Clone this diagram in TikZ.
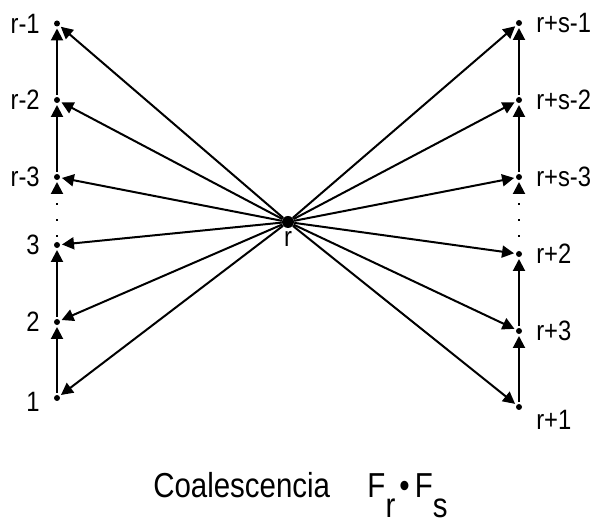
\documentclass[tikz,border=0pt]{standalone}
\usepackage{fontspec}
\setmainfont{Liberation Sans}[FakeStretch=0.85]
\usetikzlibrary{arrows.meta,positioning}

\begin{document}
\begin{tikzpicture}[x=0.75pt,y=-0.75pt,
  dot/.style={circle,fill=black,inner sep=0pt,minimum size=4.5pt,outer sep=1.5pt},
  lbl/.style={font=\fontsize{21pt}{24pt}\selectfont,inner sep=1pt},
  arr/.style={line width=1.5pt,-{Triangle[length=9pt,width=9pt]}},
  dots/.style={dash pattern=on 1.5pt off 10.5pt}]
\useasboundingbox (0,0) rectangle (597,523);
% centre
\node[circle,fill=black,inner sep=0pt,minimum size=9pt] (c) at (288,222) {};
\node[lbl,below=1pt of c] (cl) {r};
% left column
\node[dot] (l1) at (57,398) {};
\node[dot] (l2) at (57,322) {};
\node[dot] (l3) at (57,245) {};
\node[dot] (lr3) at (57,177) {};
\node[dot] (lr2) at (57,100) {};
\node[dot] (lr1) at (57,23.5) {};
\node[lbl,left=8pt of l1,yshift=-3pt] (l1l) {1};
\node[lbl,left=8pt of l2] (l2l) {2};
\node[lbl,left=8pt of l3] (l3l) {3};
\node[lbl,left=8pt of lr3] (lr3l) {r-3};
\node[lbl,left=8pt of lr2] (lr2l) {r-2};
\node[lbl,left=8pt of lr1] (lr1l) {r-1};
% right column
\node[dot] (q1) at (519,407) {};
\node[dot] (q3) at (519,331) {};
\node[dot] (q2) at (519,254) {};
\node[dot] (qs3) at (519,177) {};
\node[dot] (qs2) at (519,100) {};
\node[dot] (qs1) at (519,23) {};
\node[lbl,right=8pt of q1,yshift=-10pt] (q1l) {r+1};
\node[lbl,right=8pt of q3] (q3l) {r+3};
\node[lbl,right=8pt of q2] (q2l) {r+2};
\node[lbl,right=8pt of qs3] (qs3l) {r+s-3};
\node[lbl,right=8pt of qs2] (qs2l) {r+s-2};
\node[lbl,right=8pt of qs1] (qs1l) {r+s-1};
% chains
\draw[arr] (l1) -- (l2);
\draw[arr] (l2) -- (l3);
\draw[arr,dots,dash phase=9.75pt] (l3) -- (lr3);
\draw[arr] (lr3) -- (lr2);
\draw[arr] (lr2) -- (lr1);
\draw[arr] (q1) -- (q3);
\draw[arr] (q3) -- (q2);
\draw[arr,dots,dash phase=3pt] (q2) -- (qs3);
\draw[arr] (qs3) -- (qs2);
\draw[arr] (qs2) -- (qs1);
% from r outwards
\foreach \t in {l1,l2,l3,lr3,lr2,lr1,q1,q3,q2,qs3,qs2,qs1}
  \draw[arr] (c) -- (\t);
% caption
\node[anchor=base west,inner sep=0pt,font=\fontsize{26pt}{30pt}\selectfont] (title) at (153,498)
  {Coalescencia\hspace{28pt}F\raisebox{-15pt}{r}\hspace{3pt}•\hspace{4pt}F\raisebox{-15pt}{s}};
\end{tikzpicture}
\end{document}
